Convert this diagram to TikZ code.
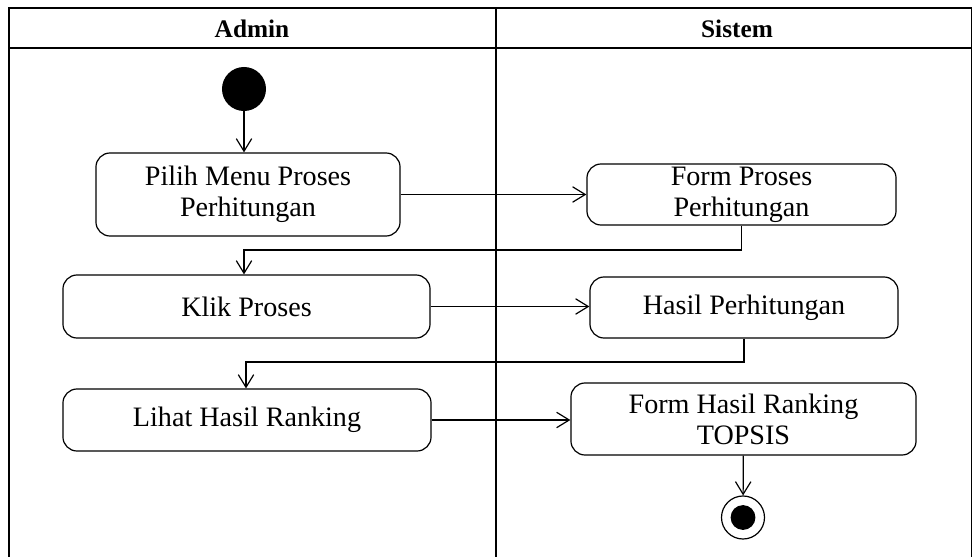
\documentclass[tikz,border=0pt]{standalone}
\usepackage{fontspec}
\setmainfont{Liberation Serif}
\usetikzlibrary{arrows.meta}
\tikzset{   act/.style = {rectangle, rounded corners=10pt, draw, line width=0.85pt, align=center, inner sep=0pt, font=\fontsize{20}{22}\selectfont},
            flow/.style = {draw, line width=0.85pt, -{Straight Barb[length=9pt,width=11pt,line width=0.85pt]}},
            lanetitle/.style = {font=\fontsize{18}{20}\selectfont\bfseries}}

\begin{document}
\begin{tikzpicture}[x=0.025cm,y=-0.025cm]
                        \useasboundingbox (0,0) rectangle (973,557);
                        % swimlanes
                        \draw[line width=0.8pt] (9,557) -- (9,8) -- (971.5,8) -- (971.5,557);
                        \draw[line width=0.8pt] (9,48) -- (971.5,48);
                        \draw[line width=0.8pt] (496,8) -- (496,557);
                        \node[lanetitle] (admin) at (252,29) {Admin};
                        \node[lanetitle] (sistem) at (737,29) {Sistem};
                        % start / end
                        \node[circle, fill=black, minimum size=1.1cm, inner sep=0pt] (start) at (244,89) {};
                        \node[circle, draw, line width=0.85pt, minimum size=1.075cm, inner sep=0pt] (stop) at (743,517.5) {};
                        \fill (stop.center) circle (0.31cm);
                        % actions
                        \node[act, minimum width=7.6cm, minimum height=2.075cm] (pilih) at (248,194.5) {Pilih Menu Proses\\Perhitungan};
                        \node[act, minimum width=7.725cm, minimum height=1.525cm] (formproses) at (741.5,194.5) {Form Proses\\Perhitungan};
                        \node[act, minimum width=9.175cm, minimum height=1.575cm] (klik) at (246.5,306.5) {Klik Proses};
                        \node[act, minimum width=7.7cm, minimum height=1.525cm] (hasil) at (744,307.5) {Hasil Perhitungan};
                        \node[act, minimum width=9.2cm, minimum height=1.55cm] (lihat) at (247,420) {Lihat Hasil Ranking};
                        \node[act, minimum width=8.625cm, minimum height=1.8cm] (formrank) at (743.5,419) {Form Hasil Ranking\\TOPSIS};
                        \coordinate (bend1) at (244,250);
                        \coordinate (bend2) at (246,362);
                        % flows
                        \draw[flow] (start) -- (start |- pilih.north);
                        \draw[flow] (pilih) -- (formproses.west |- pilih);
                        \draw[flow] (formproses.south) |- (bend1) -- (bend1 |- klik.north);
                        \draw[flow] (klik) -- (hasil.west |- klik);
                        \draw[flow] (hasil.south) |- (bend2) -- (bend2 |- lihat.north);
                        \draw[flow] (lihat) -- (formrank.west |- lihat);
                        \draw[flow] (formrank) -- (stop);
\end{tikzpicture}
\end{document}
